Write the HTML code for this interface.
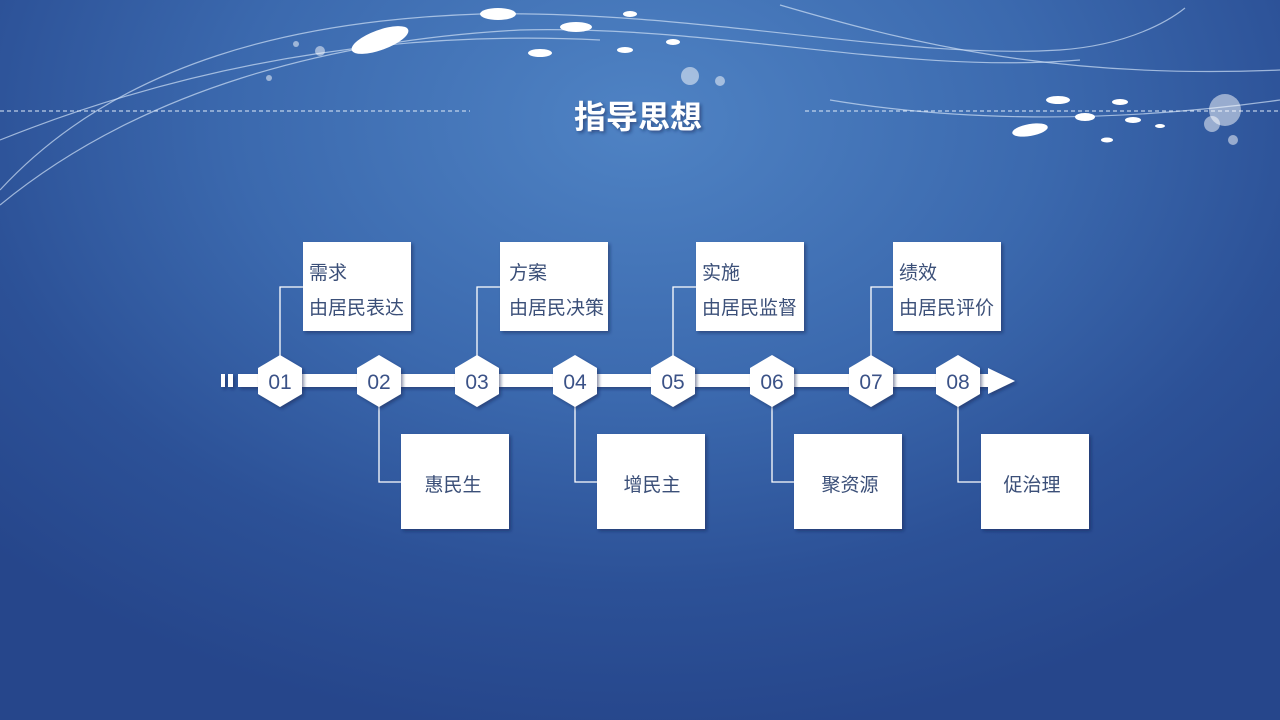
<!DOCTYPE html>
<html><head><meta charset="utf-8"><style>
html,body{margin:0;padding:0;width:1280px;height:720px;overflow:hidden}
body{background:radial-gradient(ellipse 900px 620px at 640px 120px,#4f83c4 0%,#3b69ae 45%,#2c5197 75%,#26468b 100%);font-family:"Liberation Sans","Noto Sans CJK SC",sans-serif}
svg{position:absolute;left:0;top:0}
</style></head><body>
<svg width="1280" height="720" viewBox="0 0 1280 720" font-family="Liberation Sans, Noto Sans CJK SC, sans-serif">
<defs><filter id="sh" x="-10%" y="-10%" width="130%" height="130%"><feDropShadow dx="2" dy="2" stdDeviation="1.5" flood-color="#102050" flood-opacity="0.5"/></filter></defs>
<g fill="none" stroke="#cfe0f5" stroke-opacity="0.7" stroke-width="1.2">
<path d="M0 190 C120 60 300 20 480 14 C700 10 900 60 1060 50 C1130 45 1170 20 1185 8"/>
<path d="M0 205 C140 90 330 40 520 30 C720 25 900 75 1080 60"/>
<path d="M0 140 C200 60 400 30 600 40"/>
<path d="M780 5 C900 40 1050 80 1280 70"/>
<path d="M830 100 C950 120 1100 125 1280 100"/>
</g>
<line x1="0" y1="111" x2="470" y2="111" stroke="#e0ebf8" stroke-width="1" stroke-dasharray="4 3"/>
<line x1="805" y1="111" x2="1280" y2="111" stroke="#e0ebf8" stroke-width="1" stroke-dasharray="4 3"/>
<g fill="#fff">
<ellipse cx="380" cy="40" rx="30" ry="10" transform="rotate(-20 380 40)"/>
<ellipse cx="498" cy="14" rx="18" ry="6"/>
<ellipse cx="576" cy="27" rx="16" ry="5"/>
<ellipse cx="540" cy="53" rx="12" ry="4"/>
<ellipse cx="630" cy="14" rx="7" ry="3"/>
<ellipse cx="625" cy="50" rx="8" ry="3"/>
<ellipse cx="673" cy="42" rx="7" ry="3"/>
<ellipse cx="1058" cy="100" rx="12" ry="4"/>
<ellipse cx="1030" cy="130" rx="18" ry="6" transform="rotate(-10 1030 130)"/>
<ellipse cx="1085" cy="117" rx="10" ry="4"/>
<ellipse cx="1120" cy="102" rx="8" ry="3"/>
<ellipse cx="1133" cy="120" rx="8" ry="3"/>
<ellipse cx="1107" cy="140" rx="6" ry="2.5"/>
<ellipse cx="1160" cy="126" rx="5" ry="2"/>
</g>
<g fill="#fff" fill-opacity="0.5">
<circle cx="690" cy="76" r="9"/><circle cx="720" cy="81" r="5"/><circle cx="320" cy="51" r="5"/><circle cx="269" cy="78" r="3"/><circle cx="296" cy="44" r="3"/>
<circle cx="1225" cy="110" r="16"/><circle cx="1212" cy="124" r="8"/><circle cx="1233" cy="140" r="5"/>
</g>
<text x="638" y="128" text-anchor="middle" font-size="32" font-weight="bold" fill="#fff" filter="url(#sh)">指导思想</text>
<g fill="none" stroke="#fff" stroke-width="1.3">
<path d="M280 356 V287 H303"/><path d="M477 356 V287 H500"/><path d="M673 356 V287 H696"/><path d="M871 356 V287 H893"/>
<path d="M379 406 V482 H401"/><path d="M575 406 V482 H597"/><path d="M772 406 V482 H794"/><path d="M958 406 V482 H981"/>
</g>
<g fill="#fff" filter="url(#sh)">
<rect x="221" y="374" width="4" height="13"/><rect x="228" y="374" width="5" height="13"/><rect x="238" y="374" width="750" height="13"/>
<polygon points="988,368 1015,381 988,394"/>
</g>
<g fill="#fff" filter="url(#sh)">
<polygon points="280,355 302,368 302,394 280,407 258,394 258,368"/>
<polygon points="379,355 401,368 401,394 379,407 357,394 357,368"/>
<polygon points="477,355 499,368 499,394 477,407 455,394 455,368"/>
<polygon points="575,355 597,368 597,394 575,407 553,394 553,368"/>
<polygon points="673,355 695,368 695,394 673,407 651,394 651,368"/>
<polygon points="772,355 794,368 794,394 772,407 750,394 750,368"/>
<polygon points="871,355 893,368 893,394 871,407 849,394 849,368"/>
<polygon points="958,355 980,368 980,394 958,407 936,394 936,368"/>
</g>
<g fill="#3b5287" font-size="21" text-anchor="middle">
<text x="280" y="389">01</text><text x="379" y="389">02</text><text x="477" y="389">03</text><text x="575" y="389">04</text>
<text x="673" y="389">05</text><text x="772" y="389">06</text><text x="871" y="389">07</text><text x="958" y="389">08</text>
</g>
<g fill="#fff" filter="url(#sh)">
<rect x="303" y="242" width="108" height="89"/><rect x="500" y="242" width="108" height="89"/><rect x="696" y="242" width="108" height="89"/><rect x="893" y="242" width="108" height="89"/>
<rect x="401" y="434" width="108" height="95"/><rect x="597" y="434" width="108" height="95"/><rect x="794" y="434" width="108" height="95"/><rect x="981" y="434" width="108" height="95"/>
</g>
<g fill="#3b4f78" font-size="19">
<text x="309" y="279">需求</text><text x="309" y="314">由居民表达</text>
<text x="509" y="279">方案</text><text x="509" y="314">由居民决策</text>
<text x="702" y="279">实施</text><text x="702" y="314">由居民监督</text>
<text x="899" y="279">绩效</text><text x="899" y="314">由居民评价</text>
</g>
<g fill="#3b4f78" font-size="19" text-anchor="middle">
<text x="453" y="491">惠民生</text><text x="652" y="491">增民主</text><text x="850" y="491">聚资源</text><text x="1032" y="491">促治理</text>
</g>
</svg>
</body></html>
